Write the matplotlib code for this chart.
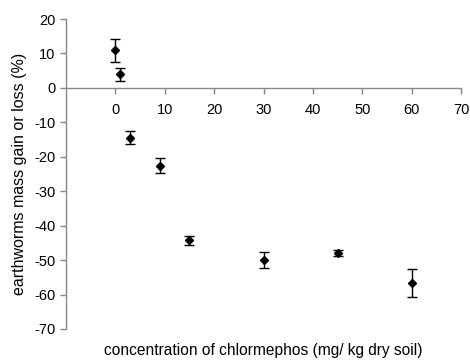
import matplotlib
matplotlib.use("Agg")
import matplotlib.pyplot as plt

plt.rcParams["font.family"] = ["Liberation Sans", "DejaVu Sans"]
plt.rcParams["axes.unicode_minus"] = False

conc = [0, 1, 3, 9, 15, 30, 45, 60]
mass_change = [10.9, 3.9, -14.5, -22.6, -44.3, -49.9, -47.9, -56.7]
err = [3.4, 2.0, 1.9, 2.2, 1.4, 2.4, 0.8, 4.1]
x_ticks = [0, 10, 20, 30, 40, 50, 60, 70]
y_ticks = [-70, -60, -50, -40, -30, -20, -10, 0, 10, 20]

fig = plt.figure(figsize=(4.70, 3.63), dpi=100)
ax = fig.add_axes([66 / 470, 1 - 329 / 363, (461 - 66) / 470, (329 - 19) / 363])

ax.errorbar(conc, mass_change, yerr=err, fmt="D", color="black", ms=4.5,
            ecolor="black", elinewidth=1.0, capsize=3.5, capthick=1.0, zorder=3)

ax.set_xlim(-10, 70)
ax.set_ylim(-70, 20)
ax.set_xticks(x_ticks)
ax.set_yticks(y_ticks)

ax.spines["top"].set_visible(False)
ax.spines["right"].set_visible(False)
ax.spines["bottom"].set_position(("data", 0))
for s in ("left", "bottom"):
    ax.spines[s].set_color("#888888")
    ax.spines[s].set_linewidth(1.0)
ax.tick_params(axis="both", colors="#888888", labelcolor="black", labelsize=10.5,
               direction="out", length=4, width=1.0)
ax.tick_params(axis="x", pad=7)

fig.text(20 / 470, 1 - 174 / 363, "earthworms mass gain or loss (%)",
         rotation=90, ha="center", va="center", fontsize=11.5)
fig.text(0.56, 1 - 350 / 363, "concentration of chlormephos (mg/ kg dry soil)",
         ha="center", va="center", fontsize=11.2)

fig.savefig("out.png", dpi=100)
